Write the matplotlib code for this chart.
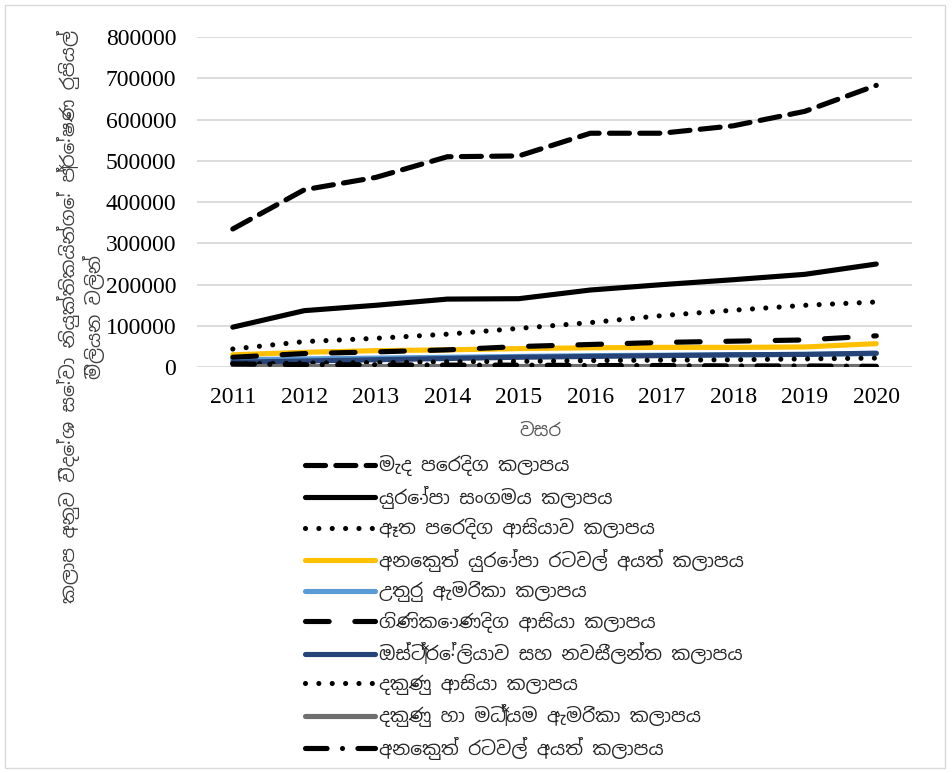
import matplotlib
matplotlib.use("Agg")
import matplotlib.pyplot as plt
from matplotlib import font_manager

# Sinhala font if one happens to be installed
sin_fonts = sorted({f.name for f in font_manager.fontManager.ttflist
                    if "sinhala" in f.name.lower() or "iskoola" in f.name.lower()})
TEXT_FAMILY = sin_fonts[:1] + ["Noto Sans", "DejaVu Sans"]
NUM_FAMILY = ["Liberation Serif", "DejaVu Serif"]

# ----------------------------------------------------------------------
years = [2011, 2012, 2013, 2014, 2015, 2016, 2017, 2018, 2019, 2020]

middle_east = [335000, 430000, 460000, 510000, 512000, 567000, 567000, 585000, 620000, 683000]
eu = [97000, 137000, 150000, 165000, 166000, 187000, 200000, 212000, 225000, 250000]
far_east = [44000, 62000, 70000, 80000, 94000, 108000, 125000, 138000, 150000, 158000]
other_europe = [30000, 36000, 40000, 42000, 45000, 47000, 48000, 48000, 49000, 57000]
north_america = [18000, 20000, 22000, 24000, 26000, 28000, 29000, 30000, 31000, 33000]
se_asia = [24000, 33000, 37000, 42000, 50000, 55000, 60000, 63000, 66000, 76000]
aus_nz = [12000, 15000, 18000, 21000, 24000, 26000, 28000, 30000, 31000, 34000]
south_asia = [8000, 10000, 11000, 13000, 14000, 16000, 17000, 18000, 20000, 22000]
latin_america = [4000, 4000, 4000, 4000, 4000, 4000, 4000, 4000, 4000, 4000]
other_countries = [8000, 6000, 6000, 5000, 5000, 4000, 4000, 3000, 3000, 2000]

labels = [
    "මැද පෙරදිග කලාපය",
    "යුරෝපා සංගමය කලාපය",
    "ඈත පෙරදිග ආසියාව කලාපය",
    "අනෙකුත් යුරෝපා රටවල් අයත් කලාපය",
    "උතුරු ඇමරිකා කලාපය",
    "ගිණිකොණදිග ආසියා කලාපය",
    "ඔස්ට්‍රේලියාව සහ නවසීලන්ත කලාපය",
    "දකුණු ආසියා කලාපය",
    "දකුණු හා මධ්‍යම ඇමරිකා කලාපය",
    "අනෙකුත් රටවල් අයත් කලාපය",
]
series = [middle_east, eu, far_east, other_europe, north_america,
          se_asia, aus_nz, south_asia, latin_america, other_countries]

y_ticks = [0, 100000, 200000, 300000, 400000, 500000, 600000, 700000, 800000]
x_title = "වසර"
y_title = "කලාප අනුව විදේශ සේවා නියුක්තිකයින්ගේ ප්‍රේෂණ රුපියල්\nමිලියන වලින්"

# style per series: colour, dash pattern (None = solid)
styles = [
    ("black", (3.9, 2.0)),
    ("black", None),
    ("black", (0.001, 2.6)),
    ("#FFC000", None),
    ("#5B9BD5", None),
    ("black", (4.6, 5.0)),
    ("#264478", None),
    ("black", (0.001, 2.6)),
    ("#6E6E6E", None),
    ("black", (4.2, 3.0, 0.001, 3.0)),
]

LW = 3.7

fig = plt.figure(figsize=(9.52, 7.73), dpi=100)
ax = fig.add_axes([0.207, 0.525, 0.751, 0.427])

handles = []
for vals, lab, (col, dash) in zip(series, labels, styles):
    if dash is None:
        ln, = ax.plot(years, vals, color=col, lw=LW, solid_capstyle="round", label=lab)
    else:
        ln, = ax.plot(years, vals, color=col, lw=LW, dash_capstyle="round", label=lab)
        ln.set_dashes(dash)
    handles.append(ln)

ax.set_xlim(2010.5, 2020.5)
ax.set_ylim(0, 800000)
ax.set_xticks(years)
ax.set_xticklabels([str(y) for y in years], family=NUM_FAMILY, fontsize=17)
ax.set_yticks(y_ticks)
ax.set_yticklabels([str(v) for v in y_ticks], family=NUM_FAMILY, fontsize=17)
ax.tick_params(axis="y", length=0, pad=15)
ax.tick_params(axis="x", length=0, pad=14)
ax.grid(axis="y", color="#D9D9D9", lw=1.3)
ax.set_axisbelow(True)
for s in ax.spines.values():
    s.set_visible(False)

fig.text(0.568, 0.443, x_title, family=TEXT_FAMILY, fontsize=13,
         color="#595959", ha="center", va="center")
fig.text(0.085, 0.59, y_title, family=TEXT_FAMILY, fontsize=13.5,
         color="#404040", ha="center", va="center", rotation=90,
         multialignment="center")

leg = fig.legend(handles=handles, labels=labels, loc="upper left",
                 bbox_to_anchor=(0.313, 0.421), frameon=False,
                 handlelength=3.7, handletextpad=0.2, labelspacing=0.5,
                 borderaxespad=0, prop={"family": TEXT_FAMILY, "size": 13.5})
for t in leg.get_texts():
    t.set_color("#262626")

# chart area border
fig.patches.append(plt.Rectangle((0.005, 0.006), 0.988, 0.988, transform=fig.transFigure,
                                 fill=False, edgecolor="#D9D9D9", lw=1))

fig.savefig("out.png", dpi=100)
